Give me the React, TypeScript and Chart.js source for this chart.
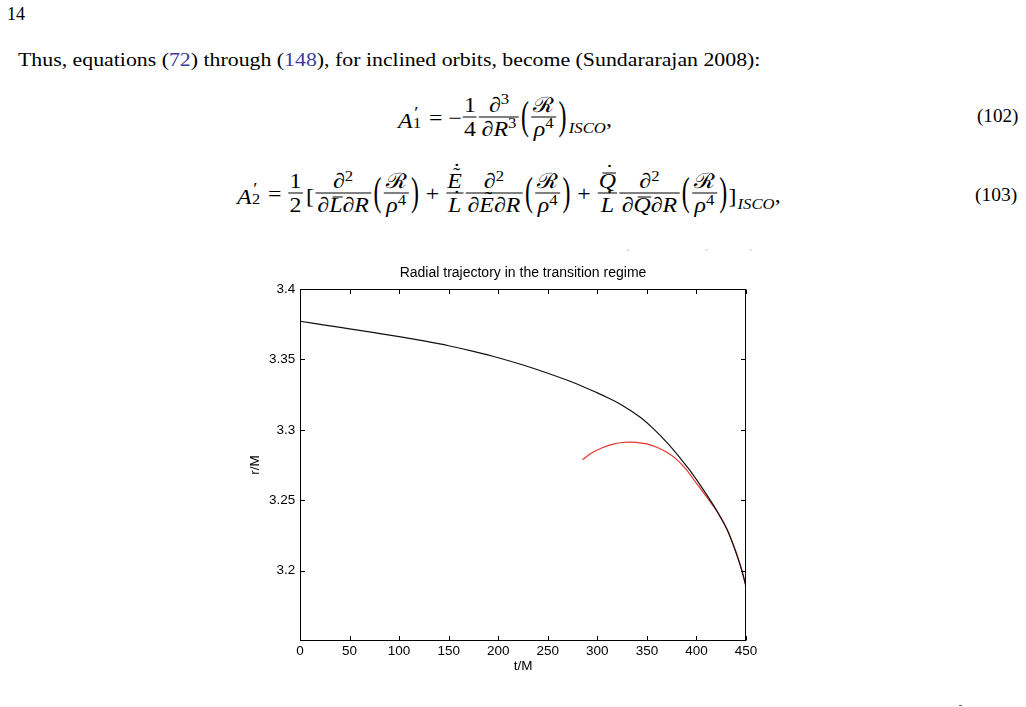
import React, { useEffect, useLayoutEffect, useRef, useState } from "react";
import { Chart, registerables } from "chart.js";
Chart.register(...registerables);

// ---------- data ----------
const chartTitle = "Radial trajectory in the transition regime";
const xAxisTitle = "t/M";
const yAxisTitle = "r/M";
const xTickValues = [0, 50, 100, 150, 200, 250, 300, 350, 400, 450];
const yTickValues = [3.2, 3.25, 3.3, 3.35, 3.4];
const yTickLabels = ["3.2", "3.25", "3.3", "3.35", "3.4"];

const blackT = [0, 25, 50, 75, 100, 125, 150, 175, 200, 225, 250, 275, 300, 310, 325, 344, 357, 371, 383, 394, 404, 415, 423, 431, 437, 442, 446, 450];
const blackR = [3.3771, 3.3744, 3.3717, 3.369, 3.3662, 3.3631, 3.3597, 3.3557, 3.3512, 3.346, 3.3402, 3.3338, 3.3262, 3.323, 3.3175, 3.3085, 3.3005, 3.2904, 3.2805, 3.2706, 3.2605, 3.2488, 3.2395, 3.229, 3.2185, 3.2085, 3.1995, 3.1888];

const redT = [285, 295, 305, 315, 325, 332, 340, 350, 360, 370, 380, 390, 400, 408, 415, 423, 431, 437, 442, 446, 450];
const redR = [3.2787, 3.2838, 3.2873, 3.2897, 3.291, 3.2913, 3.291, 3.29, 3.2876, 3.284, 3.279, 3.2715, 3.262, 3.2545, 3.2478, 3.2396, 3.2292, 3.2188, 3.2088, 3.1998, 3.1888];

const SERIF = '"Liberation Serif", "DejaVu Serif", "Times New Roman", serif';
const SANS = '"Liberation Sans", Arial, Helvetica, sans-serif';
const LINK = "#3b3b9e";

// ---------- layout helpers ----------
function FitBox(props: { left: number; cy: number; width: number; fontSize: number; children: any }) {
  const { left, cy, width, fontSize, children } = props;
  const ref = useRef<HTMLDivElement>(null);
  const [s, setS] = useState(1);
  useLayoutEffect(() => {
    const el = ref.current;
    if (!el) return;
    const w = el.offsetWidth;
    if (w > 0) setS(width / w);
  }, [width]);
  return (
    <div
      ref={ref}
      style={{
        position: "absolute",
        left,
        top: cy,
        width: "max-content",
        display: "flex",
        alignItems: "center",
        whiteSpace: "nowrap",
        lineHeight: 1,
        fontFamily: SERIF,
        fontSize,
        color: "#000",
        transform: `translateY(-50%) scaleX(${s})`,
        transformOrigin: "0 50%",
      }}
    >
      {children}
    </div>
  );
}

const I = ({ children }: any) => <span style={{ fontStyle: "italic" }}>{children}</span>;
const Sup = ({ children }: any) => (
  <span style={{ fontSize: "0.7em", position: "relative", top: "-0.5em" }}>{children}</span>
);

function Acc({ children, over, tilde, dot }: any) {
  return (
    <span style={{ position: "relative", display: "inline-block" }}>
      {children}
      {over && (
        <span style={{ position: "absolute", left: "0.16em", right: "-0.02em", top: "0.1em", borderTop: "1px solid #000" }} />
      )}
      {tilde && (
        <span style={{ position: "absolute", left: "0.18em", right: 0, top: "-0.3em", textAlign: "center", fontStyle: "normal", fontSize: "0.9em" }}>˜</span>
      )}
      {dot && (
        <span style={{ position: "absolute", left: "0.18em", right: 0, top: tilde ? "-0.5em" : over ? "-0.42em" : "-0.36em", textAlign: "center", fontStyle: "normal" }}>˙</span>
      )}
    </span>
  );
}

function Frac({ num, den, pad = 2 }: any) {
  return (
    <span style={{ display: "inline-flex", flexDirection: "column", alignItems: "center", margin: "0 1px" }}>
      <span style={{ lineHeight: 1, padding: `0 ${pad}px` }}>{num}</span>
      <span style={{ alignSelf: "stretch", borderTop: "1px solid #000", margin: "1px 0" }} />
      <span style={{ lineHeight: 1, padding: `0 ${pad}px` }}>{den}</span>
    </span>
  );
}

const Big = ({ children, scale = 1.9 }: any) => (
  <span style={{ display: "inline-block", transform: `scaleY(${scale})`, margin: "0 1px" }}>{children}</span>
);

const PrimeSub = ({ sub }: any) => (
  <span style={{ display: "inline-block", position: "relative", width: "0.45em", height: "1em", verticalAlign: "baseline" }}>
    <span style={{ position: "absolute", left: "0.08em", top: "-0.12em", fontSize: "0.8em" }}>′</span>
    <span style={{ position: "absolute", left: "0.02em", top: "0.62em", fontSize: "0.68em" }}>{sub}</span>
  </span>
);

const Isco = () => (
  <span style={{ fontSize: "0.7em", fontStyle: "italic", position: "relative", top: "0.75em", marginLeft: 1 }}>ISCO</span>
);

const RR = () => <Frac num={<span>ℛ</span>} den={<span><I>ρ</I><Sup>4</Sup></span>} />;

// ---------- chart ----------
const framePlugin = {
  id: "matlabFrame",
  afterDatasetsDraw(chart: any) {
    const { ctx, chartArea, scales } = chart;
    const L = Math.round(chartArea.left) + 0.5;
    const R = Math.round(chartArea.right) - 0.5;
    const T = Math.round(chartArea.top) + 0.5;
    const B = Math.round(chartArea.bottom) - 0.5;
    const len = 4.5;
    ctx.save();
    ctx.strokeStyle = "#000";
    ctx.lineWidth = 1;
    ctx.strokeRect(L, T, R - L, B - T);
    ctx.beginPath();
    xTickValues.forEach((v) => {
      const px = Math.round(scales.x.getPixelForValue(v)) + 0.5;
      ctx.moveTo(px, B);
      ctx.lineTo(px, B - len);
      ctx.moveTo(px, T);
      ctx.lineTo(px, T + len);
    });
    yTickValues.forEach((v) => {
      const py = Math.round(scales.y.getPixelForValue(v)) + 0.5;
      ctx.moveTo(L, py);
      ctx.lineTo(L + len, py);
      ctx.moveTo(R, py);
      ctx.lineTo(R - len, py);
    });
    ctx.stroke();
    ctx.restore();
  },
};

function RadialChart() {
  const ref = useRef<HTMLCanvasElement>(null);
  useEffect(() => {
    const tickFont = { family: SANS, size: 13.5, weight: "normal" as const, lineHeight: 1.2 };
    const titleFont = { family: SANS, size: 14, weight: "normal" as const, lineHeight: 1.15 };
    const chart = new Chart(ref.current!, {
      type: "scatter",
      data: {
        datasets: [
          {
            label: "r(t) black",
            data: blackT.map((t, i) => ({ x: t, y: blackR[i] })),
            showLine: true,
            borderColor: "#111111",
            backgroundColor: "#111111",
            borderWidth: 1.2,
            pointRadius: 0,
            cubicInterpolationMode: "monotone",
            fill: false,
          },
          {
            label: "r(t) red",
            data: redT.map((t, i) => ({ x: t, y: redR[i] })),
            showLine: true,
            borderColor: "#e8352c",
            backgroundColor: "#e8352c",
            borderWidth: 1.2,
            pointRadius: 0,
            cubicInterpolationMode: "monotone",
            fill: false,
          },
        ],
      },
      options: {
        animation: false,
        responsive: false,
        devicePixelRatio: 1,
        events: [],
        layout: { padding: { left: 0, right: 24, top: 0, bottom: 0 } },
        plugins: {
          legend: { display: false },
          tooltip: { enabled: false },
          title: {
            display: true,
            text: chartTitle,
            fullSize: false,
            color: "#000",
            font: titleFont,
            padding: { top: 10.2, bottom: 7.7 },
          },
        },
        scales: {
          x: {
            type: "linear",
            min: 0,
            max: 450,
            afterBuildTicks: (s: any) => {
              s.ticks = xTickValues.map((v) => ({ value: v }));
            },
            afterFit: (s: any) => {
              s.height = 44;
            },
            grid: { display: false, drawTicks: false },
            border: { display: false },
            ticks: { padding: 2.6, color: "#000", font: tickFont, maxRotation: 0, autoSkip: false, callback: (v: any) => String(v) },
            title: { display: true, text: xAxisTitle, color: "#000", font: tickFont, padding: { top: 0, bottom: 10.2 } },
          },
          y: {
            type: "linear",
            min: 3.15,
            max: 3.4,
            afterBuildTicks: (s: any) => {
              s.ticks = yTickValues.map((v) => ({ value: v }));
            },
            afterFit: (s: any) => {
              s.width = 70;
            },
            grid: { display: false, drawTicks: false },
            border: { display: false },
            ticks: {
              padding: 4.8,
              color: "#000",
              font: tickFont,
              autoSkip: false,
              callback: (v: any) => {
                const i = yTickValues.findIndex((t) => Math.abs(t - Number(v)) < 1e-9);
                return i >= 0 ? yTickLabels[i] : "";
              },
            },
            title: { display: true, text: yAxisTitle, color: "#000", font: tickFont, padding: { top: 16.9, bottom: 0 } },
          },
        },
      },
      plugins: [framePlugin],
    } as any);
    return () => chart.destroy();
  }, []);
  return (
    <div style={{ position: "absolute", left: 230, top: 255, width: 540, height: 430 }}>
      <canvas ref={ref} width={540} height={430} style={{ display: "block", width: 540, height: 430 }} />
    </div>
  );
}

// ---------- page ----------
export default function App() {
  return (
    <div style={{ position: "absolute", left: 0, top: 0, width: 1026, height: 707, background: "#fff", overflow: "hidden" }}>
      <FitBox left={7} cy={13.9} width={18} fontSize={18}>
        <span>14</span>
      </FitBox>

      <FitBox left={18} cy={58.6} width={742} fontSize={19}>
        <span>
          Thus, equations (<span style={{ color: LINK }}>72</span>) through (<span style={{ color: LINK }}>148</span>), for inclined orbits, become (Sundararajan 2008):
        </span>
      </FitBox>

      {/* equation (102) */}
      <FitBox left={398} cy={116.7} width={214} fontSize={21}>
        <span style={{ position: "relative", top: 2 }}>
          <I>A</I>
          <PrimeSub sub="1" />
        </span>
        <span style={{ margin: "0 5px", position: "relative", top: 1 }}>=</span>
        <span style={{ position: "relative", top: 1 }}>−</span>
        <Frac num="1" den="4" pad={1} />
        <Frac num={<span><I>∂</I><Sup>3</Sup></span>} den={<span><I>∂R</I><Sup>3</Sup></span>} />
        <Big>(</Big>
        <RR />
        <Big>)</Big>
        <Isco />
        <span style={{ position: "relative", top: 2 }}>,</span>
      </FitBox>
      <FitBox left={976.7} cy={115.2} width={41.3} fontSize={19}>
        <span>(102)</span>
      </FitBox>

      {/* equation (103) */}
      <FitBox left={237} cy={193.3} width={544} fontSize={21}>
        <span style={{ position: "relative", top: 2 }}>
          <I>A</I>
          <PrimeSub sub="2" />
        </span>
        <span style={{ margin: "0 5px", position: "relative", top: 1 }}>=</span>
        <Frac num="1" den="2" pad={1} />
        <span style={{ position: "relative", top: 3, marginLeft: 2 }}>[</span>
        <Frac
          num={<span><I>∂</I><Sup>2</Sup></span>}
          den={<span><I>∂</I><Acc over><I>L</I></Acc><I>∂R</I></span>}
        />
        <Big>(</Big>
        <RR />
        <Big>)</Big>
        <span style={{ margin: "0 5px", position: "relative", top: 1 }}>+</span>
        <Frac num={<Acc tilde dot><I>E</I></Acc>} den={<Acc dot><I>L</I></Acc>} pad={1} />
        <Frac
          num={<span><I>∂</I><Sup>2</Sup></span>}
          den={<span><I>∂</I><Acc tilde><I>E</I></Acc><I>∂R</I></span>}
        />
        <Big>(</Big>
        <RR />
        <Big>)</Big>
        <span style={{ margin: "0 5px", position: "relative", top: 1 }}>+</span>
        <Frac num={<Acc over dot><I>Q</I></Acc>} den={<Acc dot><I>L</I></Acc>} pad={1} />
        <Frac
          num={<span><I>∂</I><Sup>2</Sup></span>}
          den={<span><I>∂</I><Acc over><I>Q</I></Acc><I>∂R</I></span>}
        />
        <Big>(</Big>
        <RR />
        <Big>)</Big>
        <span style={{ position: "relative", top: 3 }}>]</span>
        <Isco />
        <span style={{ position: "relative", top: 2 }}>,</span>
      </FitBox>
      <FitBox left={975.3} cy={194.2} width={42} fontSize={19}>
        <span>(103)</span>
      </FitBox>

      {/* clipped accent fragments of the next line */}
      <span style={{ position: "absolute", left: 626, top: 248, fontFamily: SERIF, fontSize: 10, color: "#999" }}>´</span>
      <span style={{ position: "absolute", left: 705, top: 248, fontFamily: SERIF, fontSize: 10, color: "#999" }}>`</span>
      <span style={{ position: "absolute", left: 749, top: 248, fontFamily: SERIF, fontSize: 10, color: "#999" }}>´</span>
      <div style={{ position: "absolute", left: 959, top: 705, width: 3, height: 1, background: "#666" }} />

      <RadialChart />
    </div>
  );
}
